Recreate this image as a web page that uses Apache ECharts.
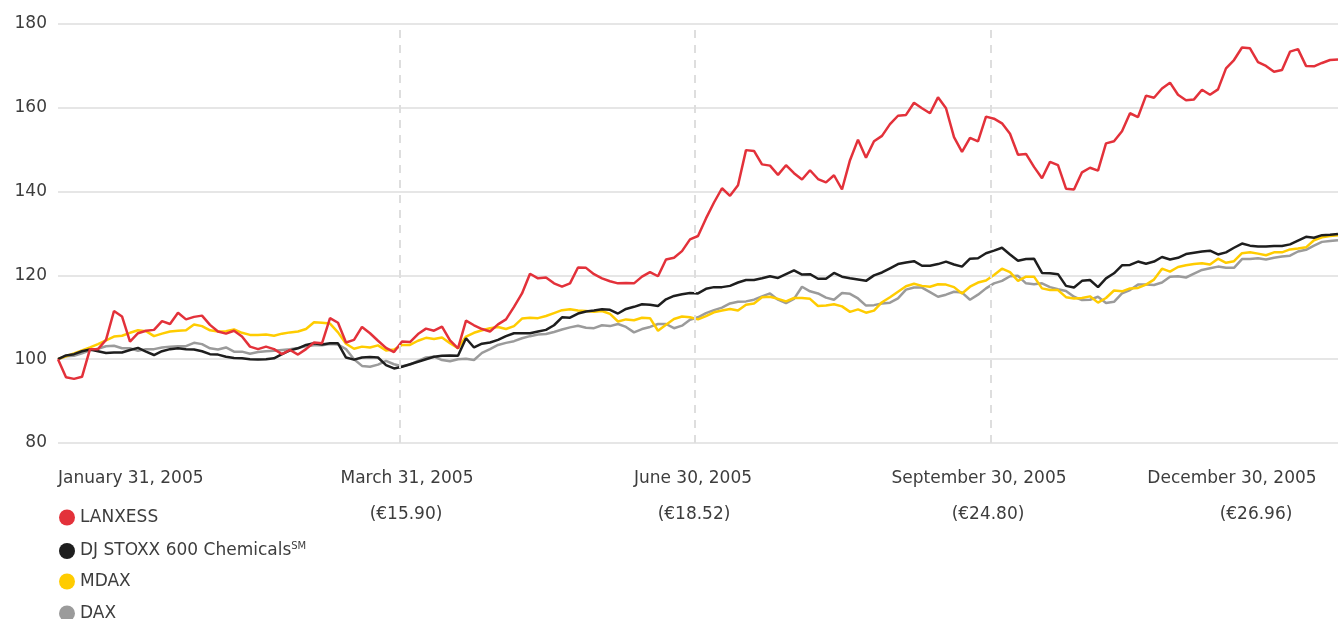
<!DOCTYPE html>
<html>
<head>
<meta charset="utf-8">
<script src="https://cdn.jsdelivr.net/npm/echarts@6/dist/echarts.min.js"></script>
<style>
html,body{margin:0;padding:0;background:#fff;}
#chart{width:1339px;height:619px;}
</style>
</head>
<body>
<div id="chart"></div>
<script>
// Indexed performance (Jan 31, 2005 = 100), sampled evenly along the period
const lanxess = [
100.0, 95.7, 95.3, 95.8, 102.4, 102.4, 104.6, 111.5, 110.2, 104.2,
106.2, 106.8, 107.0, 109.1, 108.4, 111.1, 109.5, 110.1, 110.4, 108.2,
106.6, 106.1, 106.8, 105.4, 103.0, 102.4, 103.0, 102.4, 101.2, 102.2,
101.1, 102.4, 104.0, 103.8, 109.8, 108.7, 104.0, 104.6, 107.7, 106.2,
104.4, 102.7, 101.7, 104.2, 104.1, 106.0, 107.3, 106.8, 107.8, 104.5,
102.6, 109.2, 108.1, 107.2, 106.6, 108.3, 109.5, 112.5, 115.7, 120.4,
119.3, 119.5, 118.1, 117.3, 118.1, 121.9, 121.8, 120.3, 119.3, 118.6,
118.1, 118.2, 118.1, 119.7, 120.8, 119.8, 123.8, 124.2, 125.8, 128.6,
129.4, 133.6, 137.4, 140.8, 139.0, 141.5, 149.9, 149.7, 146.5, 146.2,
144.0, 146.3, 144.4, 142.9, 145.1, 143.0, 142.2, 143.9, 140.5, 147.5,
152.4, 148.1, 152.0, 153.3, 156.1, 158.1, 158.3, 161.2, 159.9, 158.7,
162.5, 159.9, 153.0, 149.5, 152.8, 152.0, 157.9, 157.4, 156.3, 153.8,
148.8, 149.0, 145.9, 143.2, 147.1, 146.3, 140.7, 140.5, 144.6, 145.7,
145.0, 151.5, 152.0, 154.4, 158.7, 157.8, 162.9, 162.4, 164.6, 166.0,
163.1, 161.8, 162.0, 164.3, 163.1, 164.4, 169.4, 171.4, 174.4, 174.2,
170.9, 170.0, 168.6, 169.0, 173.4, 174.0, 170.0, 169.9, 170.7, 171.4,
171.5
];
const stoxxChem = [
100.0, 100.9, 101.2, 101.9, 102.3, 101.9, 101.5, 101.6, 101.6, 102.2,
102.7, 101.8, 101.0, 101.9, 102.4, 102.6, 102.4, 102.3, 101.9, 101.2,
101.1, 100.6, 100.3, 100.2, 100.0, 99.9, 100.0, 100.2, 101.2, 102.1,
102.6, 103.4, 103.8, 103.5, 103.8, 103.8, 100.4, 99.9, 100.4, 100.5,
100.4, 98.6, 97.8, 98.2, 98.8, 99.4, 100.0, 100.6, 100.8, 100.9,
100.8, 105.0, 102.8, 103.7, 104.0, 104.6, 105.5, 106.2, 106.2, 106.2,
106.6, 107.0, 108.1, 110.0, 109.9, 110.9, 111.4, 111.6, 111.9, 111.8,
110.9, 112.0, 112.5, 113.1, 113.0, 112.7, 114.3, 115.1, 115.5, 115.8,
115.7, 116.8, 117.2, 117.2, 117.5, 118.3, 118.9, 118.9, 119.3, 119.8,
119.4, 120.3, 121.2, 120.2, 120.3, 119.2, 119.2, 120.6, 119.7, 119.3,
119.0, 118.7, 120.0, 120.7, 121.7, 122.7, 123.1, 123.4, 122.3, 122.3,
122.7, 123.3, 122.6, 122.1, 124.0, 124.1, 125.3, 125.9, 126.6, 125.0,
123.5, 123.9, 124.0, 120.6, 120.5, 120.3, 117.5, 117.1, 118.7, 118.9,
117.2, 119.3, 120.5, 122.4, 122.5, 123.3, 122.8, 123.3, 124.4, 123.8,
124.2, 125.1, 125.4, 125.7, 125.9, 125.0, 125.5, 126.6, 127.6, 127.1,
126.9, 126.9, 127.0, 127.0, 127.4, 128.3, 129.2, 129.0, 129.6, 129.7,
129.9
];
const mdax = [
100.0, 100.7, 101.4, 102.1, 102.8, 103.6, 104.5, 105.4, 105.6, 106.3,
106.9, 106.7, 105.5, 106.1, 106.6, 106.8, 106.9, 108.3, 107.9, 106.9,
106.6, 106.7, 107.1, 106.3, 105.8, 105.8, 105.9, 105.6, 106.1, 106.4,
106.6, 107.2, 108.8, 108.7, 108.5, 106.4, 103.7, 102.5, 103.0, 102.8,
103.3, 102.1, 102.3, 103.4, 103.4, 104.4, 105.1, 104.8, 105.2, 103.8,
102.6, 105.4, 106.3, 106.9, 107.4, 107.7, 107.2, 107.9, 109.7, 109.9,
109.8, 110.3, 111.0, 111.7, 111.9, 111.6, 111.5, 111.3, 111.5, 110.8,
109.0, 109.5, 109.3, 109.9, 109.8, 106.8, 108.2, 109.6, 110.2, 110.0,
109.5, 110.3, 111.2, 111.6, 112.0, 111.6, 113.0, 113.3, 114.8, 114.9,
114.4, 113.8, 114.6, 114.6, 114.4, 112.7, 112.8, 113.1, 112.6, 111.3,
111.9, 111.1, 111.6, 113.6, 114.8, 116.1, 117.4, 118.0, 117.5, 117.3,
117.9, 117.8, 117.2, 115.7, 117.3, 118.3, 118.8, 120.1, 121.6, 120.8,
118.7, 119.7, 119.7, 116.9, 116.5, 116.5, 114.8, 114.5, 114.6, 115.0,
113.5, 114.6, 116.4, 116.2, 116.9, 117.0, 117.8, 119.0, 121.6, 120.9,
122.0, 122.4, 122.7, 122.9, 122.6, 124.0, 123.0, 123.4, 125.3, 125.5,
125.2, 124.8, 125.5, 125.5, 126.2, 126.4, 126.7, 128.4, 129.1, 129.4,
129.6
];
const dax = [
100.0, 100.7, 100.8, 101.4, 102.1, 102.5, 103.1, 103.2, 102.6, 102.6,
102.0, 102.4, 102.4, 102.8, 103.0, 103.1, 103.1, 103.9, 103.6, 102.6,
102.3, 102.8, 101.8, 101.8, 101.3, 101.7, 101.9, 102.0, 102.2, 102.4,
102.7, 103.1, 103.3, 103.3, 103.6, 103.5, 102.4, 100.0, 98.4, 98.2,
98.7, 99.6, 98.8, 98.3, 98.7, 99.6, 100.4, 100.6, 99.8, 99.5,
100.0, 100.1, 99.8, 101.5, 102.4, 103.4, 103.9, 104.3, 105.0, 105.5,
105.9, 106.0, 106.5, 107.1, 107.6, 108.0, 107.5, 107.4, 108.1, 107.9,
108.4, 107.7, 106.4, 107.2, 107.7, 108.4, 108.4, 107.4, 108.0, 109.4,
110.0, 111.0, 111.7, 112.3, 113.3, 113.7, 113.8, 114.2, 115.0, 115.7,
114.2, 113.4, 114.4, 117.3, 116.2, 115.7, 114.7, 114.2, 115.8, 115.6,
114.5, 112.8, 112.9, 113.3, 113.5, 114.5, 116.6, 117.1, 117.1, 116.0,
114.9, 115.4, 116.1, 115.9, 114.2, 115.4, 116.9, 118.1, 118.7, 119.8,
119.9, 118.1, 117.9, 118.1, 117.2, 116.7, 116.3, 114.9, 114.1, 114.2,
114.9, 113.4, 113.7, 115.7, 116.5, 117.8, 117.8, 117.7, 118.3, 119.7,
119.8, 119.5, 120.4, 121.3, 121.7, 122.1, 121.8, 121.8, 123.9, 123.9,
124.1, 123.8, 124.2, 124.5, 124.7, 125.7, 126.1, 127.1, 128.0, 128.2,
128.4
];
const seriesNames = ['LANXESS', 'DJ STOXX 600 Chemicals', 'MDAX', 'DAX'];
const dateLabels = ['January 31, 2005', 'March 31, 2005', 'June 30, 2005', 'September 30, 2005', 'December 30, 2005'];
const priceLabels = ['', '(€15.90)', '(€18.52)', '(€24.80)', '(€26.96)'];
const quarterMarks = [42.75, 79.625, 116.625]; // sample index of Mar 31, Jun 30, Sep 30
const yTicks = { min: 80, max: 180, step: 20 };

// layout (pixels) for the date/price captions and legend rows
const dateX = [58, 407, 693, 979, 1232];
const priceX = [0, 406, 694, 988, 1256];
const legendTop = 509, legendStep = 32;

const FONT = 'DejaVu Sans';
const TXT = '#3d3d3d';
const COLORS = { 'LANXESS': '#e3313a', 'DJ STOXX 600 Chemicals': '#1e1e1e', 'MDAX': '#ffcc00', 'DAX': '#9b9b9b' };

function pairs(arr) { return arr.map((v, i) => [i, v]); }

const chart = echarts.init(document.getElementById('chart'), null, { renderer: 'canvas' });

const graphics = [];
dateLabels.forEach((t, i) => {
  graphics.push({
    type: 'text', x: dateX[i], y: 479,
    style: { text: t, fill: TXT, font: '17px "' + FONT + '"', textAlign: i === 0 ? 'left' : 'center', textVerticalAlign: 'middle' }
  });
  if (priceLabels[i]) {
    graphics.push({
      type: 'text', x: priceX[i], y: 515,
      style: { text: priceLabels[i], fill: TXT, font: '17px "' + FONT + '"', textAlign: 'center', textVerticalAlign: 'middle' }
    });
  }
});

const legends = seriesNames.map((n, i) => ({
  orient: 'vertical', left: 59, top: legendTop + legendStep * i, padding: 0,
  icon: 'circle', itemWidth: 16, itemHeight: 16,
  data: [n],
  formatter: function (name) { return name === 'DJ STOXX 600 Chemicals' ? name + '{sup|SM}' : name; },
  textStyle: {
    color: TXT, fontSize: 17, fontFamily: FONT,
    rich: { sup: { fontSize: 10, fontFamily: FONT, color: TXT, verticalAlign: 'top', padding: [0, 0, 10, 0] } }
  }
}));

const lineW = 2.5;
chart.setOption({
  animation: false,
  backgroundColor: '#ffffff',
  textStyle: { fontFamily: FONT },
  grid: { left: 58, right: 1, top: 24, bottom: 176, containLabel: false },
  xAxis: {
    type: 'value', min: 0, max: lanxess.length - 1,
    axisLine: { show: false }, axisTick: { show: false }, axisLabel: { show: false }, splitLine: { show: false }
  },
  yAxis: {
    type: 'value', min: yTicks.min, max: yTicks.max, interval: yTicks.step,
    axisLine: { show: false }, axisTick: { show: false },
    axisLabel: { color: TXT, fontSize: 17, fontFamily: FONT, margin: 11 },
    splitLine: { lineStyle: { color: '#e6e6e6', width: 2 } }
  },
  legend: legends,
  graphic: graphics,
  series: [
    { name: 'DAX', type: 'line', data: pairs(dax), symbol: 'none', color: COLORS['DAX'], lineStyle: { width: lineW, color: COLORS['DAX'] },
      markLine: { silent: true, symbol: ['none', 'none'], label: { show: false },
        lineStyle: { type: [8, 7], color: '#dedede', width: 2 },
        data: quarterMarks.map(v => ({ xAxis: v })) } },
    { name: 'MDAX', type: 'line', data: pairs(mdax), symbol: 'none', color: COLORS['MDAX'], lineStyle: { width: lineW, color: COLORS['MDAX'] } },
    { name: 'DJ STOXX 600 Chemicals', type: 'line', data: pairs(stoxxChem), symbol: 'none', color: COLORS['DJ STOXX 600 Chemicals'], lineStyle: { width: lineW, color: COLORS['DJ STOXX 600 Chemicals'] } },
    { name: 'LANXESS', type: 'line', data: pairs(lanxess), symbol: 'none', color: COLORS['LANXESS'], lineStyle: { width: lineW, color: COLORS['LANXESS'] } }
  ]
});
</script>
</body>
</html>
